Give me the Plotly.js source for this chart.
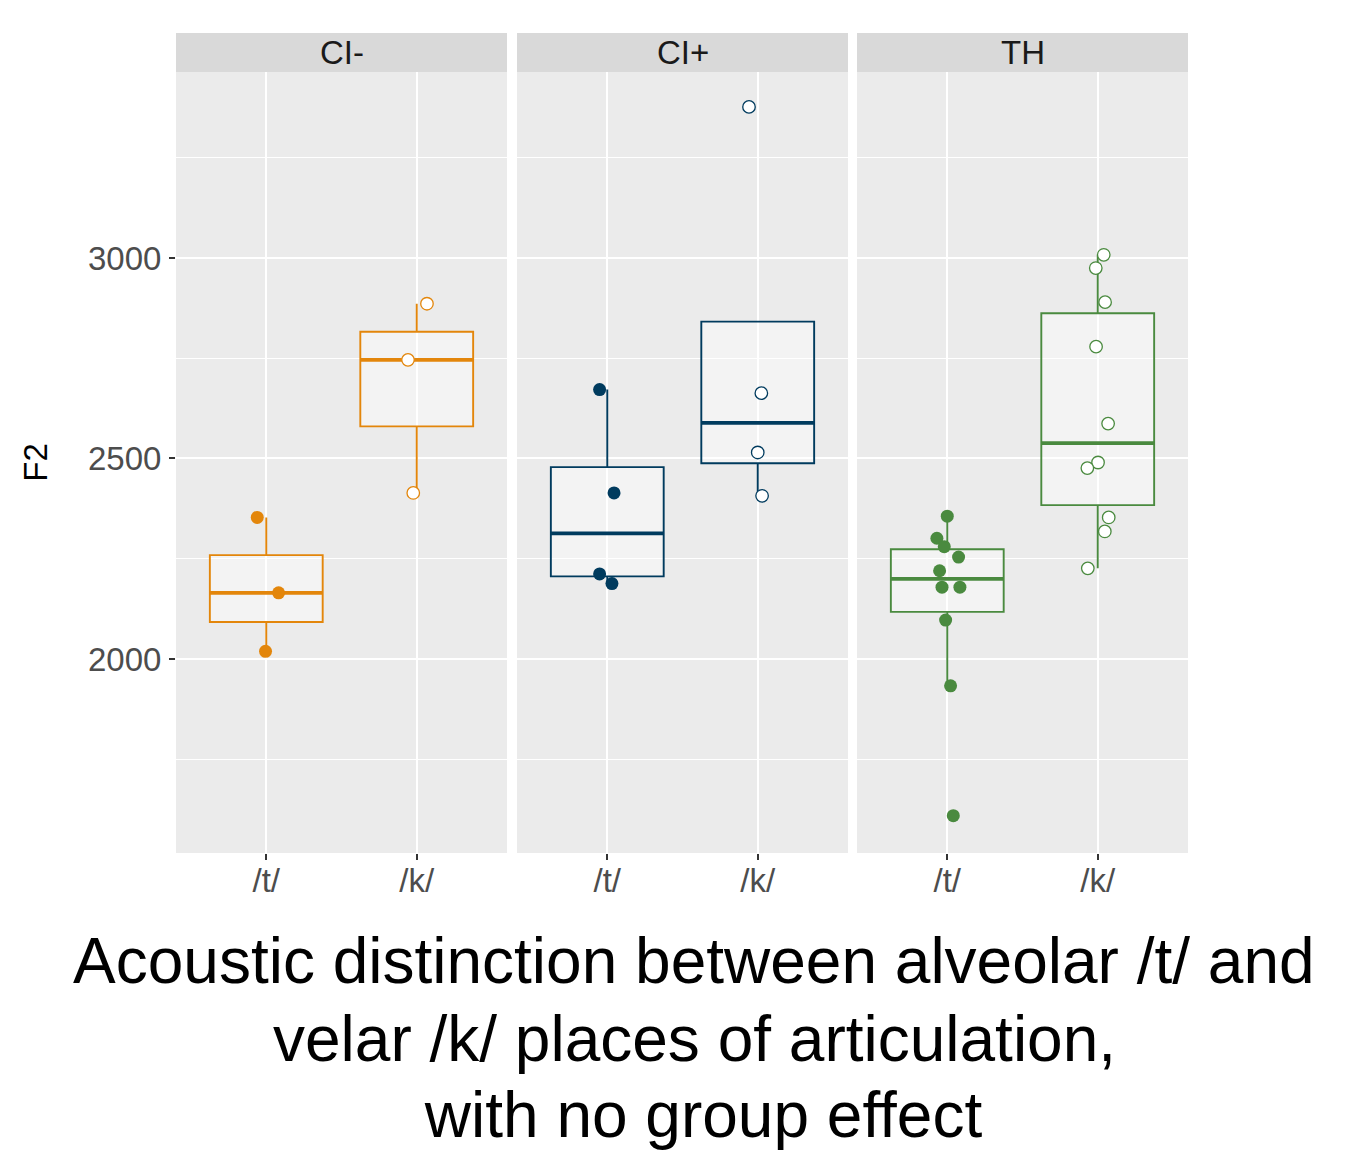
<!DOCTYPE html>
<html>
<head>
<meta charset="utf-8">
<script src="https://cdn.plot.ly/plotly-3.0.1.min.js"></script>
<style>html,body{margin:0;padding:0;background:#fff;}#chart{width:1352px;height:1175px;}</style>
</head>
<body>
<div id="chart"></div>
<script>
// ---- data ----
const groups = ["CI-", "CI+", "TH"];
const categories = ["/t/", "/k/"];
const groupColors = ["#E3860B", "#003B5E", "#4A8A3F"];

const ciMinusT = [2353, 2165, 2019];
const ciMinusTJitter = [-0.060, 0.082, -0.005];
const ciMinusK = [2886, 2746, 2414];
const ciMinusKJitter = [0.068, -0.058, -0.023];

const ciPlusT = [2672, 2414, 2212, 2188];
const ciPlusTJitter = [-0.051, 0.045, -0.051, 0.031];
const ciPlusK = [3377, 2663, 2515, 2407];
const ciPlusKJitter = [-0.058, 0.024, 0.000, 0.029];

const thT = [2356, 2301, 2280, 2254, 2220, 2179, 2179, 2097, 1933, 1609];
const thTJitter = [0.000, -0.069, -0.020, 0.075, -0.051, -0.035, 0.084, -0.011, 0.022, 0.040];
const thK = [3008, 2975, 2890, 2779, 2587, 2490, 2476, 2353, 2318, 2226];
const thKJitter = [0.040, -0.013, 0.049, -0.011, 0.069, 0.002, -0.069, 0.073, 0.047, -0.066];

const yTicks = [2000, 2500, 3000];
const titleLines = ["Acoustic distinction between alveolar /t/ and", "velar /k/ places of articulation,", " with no group effect"];

const panelData = [
  {t: ciMinusT, tj: ciMinusTJitter, k: ciMinusK, kj: ciMinusKJitter},
  {t: ciPlusT, tj: ciPlusTJitter, k: ciPlusK, kj: ciPlusKJitter},
  {t: thT, tj: thTJitter, k: thK, kj: thKJitter}
];

// ---- boxplot statistics (R type-7 quantiles, 1.5 IQR whiskers, like ggplot2) ----
function q7(s, p) {
  const h = (s.length - 1) * p, lo = Math.floor(h), hi = Math.ceil(h);
  return s[lo] + (h - lo) * (s[hi] - s[lo]);
}
function boxStats(vals) {
  const s = vals.slice().sort((a, b) => a - b);
  const q1 = q7(s, 0.25), med = q7(s, 0.5), q3 = q7(s, 0.75), iqr = q3 - q1;
  const inside = s.filter(v => v >= q1 - 1.5 * iqr && v <= q3 + 1.5 * iqr);
  return {q1, med, q3, lf: Math.min(q1, Math.min(...inside)), uf: Math.max(q3, Math.max(...inside))};
}

const FONT = "Liberation Sans, Arial, Helvetica, sans-serif";
const BOXW = 0.75;
const traces = [];
panelData.forEach((pd, i) => {
  const xa = i === 0 ? "x" : "x" + (i + 1);
  const col = groupColors[i];
  const st = [boxStats(pd.t), boxStats(pd.k)];
  const pos = [1, 2];
  traces.push({
    type: "box", orientation: "v", xaxis: xa, yaxis: "y",
    x: pos,
    q1: st.map(s => s.q1), median: st.map(s => s.med), q3: st.map(s => s.q3),
    lowerfence: st.map(s => s.lf), upperfence: st.map(s => s.uf),
    width: BOXW, whiskerwidth: 0, boxpoints: false,
    line: {color: col, width: 1.9}, fillcolor: "rgba(255,255,255,0.4)",
    hoverinfo: "skip", showlegend: false
  });
  // thicker median line (ggplot fatten)
  const mx = [], my = [];
  st.forEach((s, j) => { mx.push(pos[j] - BOXW / 2, pos[j] + BOXW / 2, null); my.push(s.med, s.med, null); });
  traces.push({type: "scatter", mode: "lines", xaxis: xa, yaxis: "y", x: mx, y: my,
    line: {color: col, width: 3.8}, hoverinfo: "skip", showlegend: false});
  // jittered points
  traces.push({type: "scatter", mode: "markers", xaxis: xa, yaxis: "y",
    x: pd.t.map((v, j) => 1 + pd.tj[j]), y: pd.t,
    marker: {color: col, size: 13, line: {width: 0}}, showlegend: false, name: groups[i] + " " + categories[0]});
  traces.push({type: "scatter", mode: "markers", xaxis: xa, yaxis: "y",
    x: pd.k.map((v, j) => 2 + pd.kj[j]), y: pd.k,
    marker: {color: "#FFFFFF", size: 12.5, line: {color: col, width: 1.3}}, showlegend: false, name: groups[i] + " " + categories[1]});
});

const W = 1352, H = 1175;
const panelsPx = [[176, 507], [517, 848], [857, 1188]];
const plotTop = 72, plotBottom = 853, stripTop = 33;
const yDomain = [(H - plotBottom) / H, (H - plotTop) / H];

function xAxis(i) {
  return {
    domain: [panelsPx[i][0] / W, panelsPx[i][1] / W], anchor: "y",
    range: [0.4, 2.6], tickvals: [1, 2], ticktext: categories,
    showgrid: true, gridcolor: "#FFFFFF", gridwidth: 2, zeroline: false, showline: false,
    ticks: "outside", ticklen: 6, tickwidth: 2, tickcolor: "#333333", ticklabelstandoff: -8,
    tickfont: {family: FONT, size: 33, color: "#4D4D4D"}, automargin: false, fixedrange: true
  };
}

const shapes = panelsPx.map(p => ({
  type: "rect", xref: "paper", yref: "paper",
  x0: p[0] / W, x1: p[1] / W, y0: (H - plotTop) / H, y1: (H - stripTop) / H,
  fillcolor: "#D9D9D9", line: {width: 0}, layer: "below"
}));

const annotations = groups.map((g, i) => ({
  text: g, xref: "paper", yref: "paper",
  x: (panelsPx[i][0] + panelsPx[i][1]) / 2 / W, y: (H - (stripTop + plotTop) / 2) / H,
  xanchor: "center", yanchor: "middle", showarrow: false,
  font: {family: FONT, size: 33, color: "#1A1A1A"}
}));
const titleCenters = [[694, 961], [694, 1039], [694, 1115]];
titleLines.forEach((t, i) => {
  annotations.push({
    text: t, xref: "paper", yref: "paper",
    x: titleCenters[i][0] / W, y: (H - titleCenters[i][1]) / H,
    xanchor: "center", yanchor: "middle", showarrow: false,
    font: {family: FONT, size: 64, color: "#000000"}
  });
});

const layout = {
  width: W, height: H,
  margin: {l: 0, r: 0, t: 0, b: 0, pad: 0},
  paper_bgcolor: "#FFFFFF", plot_bgcolor: "#EBEBEB",
  showlegend: false,
  xaxis: xAxis(0), xaxis2: xAxis(1), xaxis3: xAxis(2),
  yaxis: {
    domain: yDomain, anchor: "x", range: [1516, 3464],
    tickvals: yTicks, ticktext: yTicks.map(String),
    showgrid: true, gridcolor: "#FFFFFF", gridwidth: 2, zeroline: false, showline: false,
    minor: {tickvals: [1750, 2250, 2750, 3250], showgrid: true, gridcolor: "#FFFFFF", gridwidth: 1, ticks: ""},
    ticks: "outside", ticklen: 6, tickwidth: 2, tickcolor: "#333333", ticklabelstandoff: 1,
    tickfont: {family: FONT, size: 33, color: "#4D4D4D"},
    title: {text: "F2", font: {family: FONT, size: 33, color: "#000000"}, standoff: 30},
    automargin: false, fixedrange: true
  },
  shapes: shapes,
  annotations: annotations
};

Plotly.newPlot("chart", traces, layout, {displayModeBar: false, staticPlot: true});
</script>
</body>
</html>
